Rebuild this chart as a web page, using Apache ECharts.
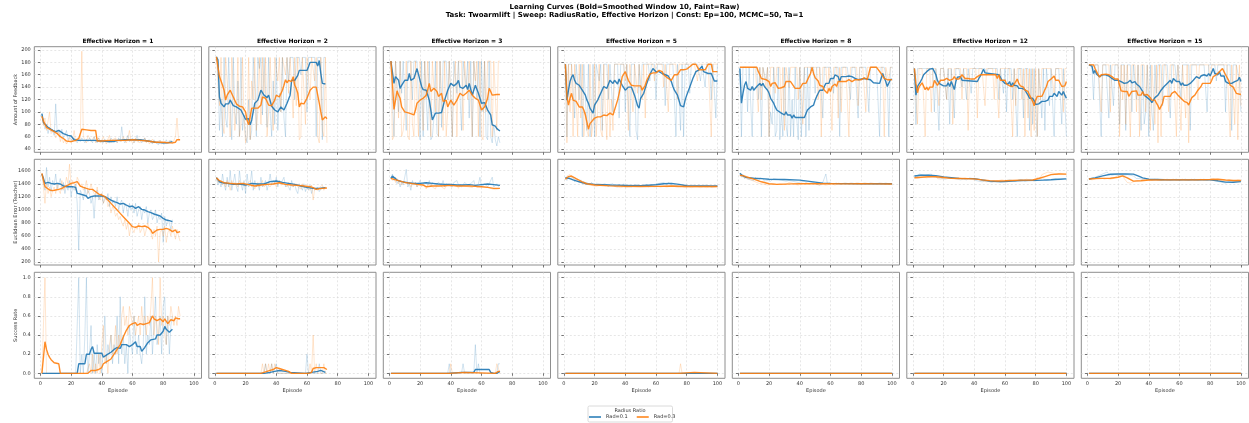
<!DOCTYPE html>
<html><head><meta charset="utf-8">
<script src="https://cdn.jsdelivr.net/npm/echarts@6/dist/echarts.min.js"></script>
<style>html,body{margin:0;padding:0;background:#fff;}#c{width:1249px;height:423px;}</style>
</head><body><div id="c"></div>
<script>
// ---------------- labels / ticks ----------------
const horizons = [1, 2, 3, 5, 8, 12, 15];
const radiusLabels = ['Rad=0.1', 'Rad=0.3'];
const rowNames = ['Amount of Feedback', 'Euclidean Error (Teacher)', 'Success Rate'];
const xTicks = [0, 20, 40, 60, 80, 100];
const yTicksFeedback = [40, 60, 80, 100, 120, 140, 160, 180, 200];
const yTicksError = [200, 400, 600, 800, 1000, 1200, 1400, 1600];
const yTicksSuccess = [0, 0.2, 0.4, 0.6, 0.8, 1.0];
const titleLine1 = 'Learning Curves (Bold=Smoothed Window 10, Faint=Raw)';
const titleLine2 = 'Task: Twoarmlift | Sweep: RadiusRatio, Effective Horizon | Const: Ep=100, MCMC=50, Ta=1';

// ---------------- Amount of Feedback: raw (one value per episode from 1) ----------------
const fb_h1_r01_raw = [97,85,72,80,65,75,68,72,62,113,65,70,60,72,58,62,70,55,60,58,52,58,55,50,56,52,58,54,50,56,52,58,55,50,60,54,50,58,52,54,50,56,52,55,50,58,54,52,56,50,58,52,76,55,50,56,62,52,55,58,50,54,62,52,56,50,54,58,52,50,55,52,48,55,50,52,47,54,50,52,48,55,50,52,54,52];
const fb_h1_r03_raw = [93,78,90,70,72,100,65,62,70,58,55,68,52,60,50,55,48,52,58,50,55,70,52,58,60,55,198,60,55,50,62,58,52,55,60,50,52,58,50,55,60,52,48,56,62,50,55,52,58,50,54,56,52,60,54,50,58,70,52,55,50,58,52,54,50,56,52,58,50,54,48,52,56,50,48,52,50,54,48,50,52,48,50,54,52,48,50,60,90,55,55];
const fb_h2_r01_raw = [188,175,70,120,60,188,90,75,188,110,55,188,100,80,150,60,188,70,95,60,50,120,55,70,188,140,60,188,170,188,95,188,130,75,188,100,60,150,80,188,70,130,100,188,90,60,188,150,188,188,188,120,188,188,188,160,188,188,188,100,188,188,188,188,188,60,188,188,188,55,188,188];
const fb_h2_r03_raw = [188,188,110,188,80,65,188,188,110,60,188,140,70,100,188,60,80,188,90,50,60,188,55,150,120,188,70,100,188,80,188,130,188,60,100,188,120,70,188,188,150,188,100,188,188,160,188,130,188,188,90,188,110,188,55,60,188,188,80,188,188,120,188,188,150,188,60,50,188,70,60,188,50];
const fb_h3_r01_raw = [182,182,60,182,182,100,182,130,182,182,70,182,182,182,120,182,182,182,182,55,182,60,182,120,70,182,55,60,90,182,65,60,182,75,182,182,182,120,182,182,60,182,182,130,182,182,70,182,182,140,182,90,182,60,182,182,120,182,60,182,100,182,60,55,182,60,50,80,55,45,60,50];
const fb_h3_r03_raw = [182,55,60,182,182,90,182,60,70,100,182,60,55,182,80,60,182,182,60,182,182,70,182,120,182,182,60,182,182,100,182,60,182,182,70,182,60,100,182,182,60,150,182,60,182,182,182,70,182,182,120,182,182,60,182,150,182,60,182,60,55,182,100,182,182,182,60,182,182,70,182,182];
const fb_h5_r01_raw = [177,60,177,177,177,177,90,177,177,120,177,60,177,177,70,177,60,80,177,60,177,177,150,177,70,177,177,177,120,177,177,100,177,177,177,90,177,177,177,100,177,177,60,177,177,177,70,55,177,120,177,177,177,177,177,150,177,177,177,120,177,177,177,177,177,110,177,177,177,177,177,120,60,177,177,70,177,60,177,177,177,130,177,177,177,177,177,177,150,177,177,140,177,177,177,120,177,177,90,177];
const fb_h5_r03_raw = [177,50,177,100,177,60,177,120,60,177,90,177,60,100,70,60,177,60,80,177,60,100,177,70,60,177,100,55,177,60,120,70,177,177,177,177,177,177,177,150,177,70,177,177,100,177,177,130,177,177,120,177,90,177,177,177,177,177,150,177,177,177,177,177,140,177,177,100,177,177,177,177,177,120,177,177,177,177,177,177,177,177,177,177,177,177,150,177,177,177,177,177,177,177,177,60,177,177,177,177];
const fb_h8_r01_raw = [172,60,172,172,172,100,172,172,60,172,172,172,120,172,60,172,172,150,172,60,100,80,172,60,70,172,55,100,60,172,80,60,172,60,120,60,172,90,55,172,60,120,172,60,172,70,172,172,172,130,172,172,172,172,90,172,172,172,172,172,172,130,172,172,172,60,172,172,172,172,172,172,120,172,172,172,172,90,172,172,172,172,172,172,100,172,172,172,172,172,172,60,172,172,172,172,150,60,172,172];
const fb_h8_r03_raw = [172,172,172,172,172,172,172,172,172,172,172,172,100,172,120,172,172,140,172,60,172,172,172,130,172,172,172,100,172,70,172,172,140,172,172,172,172,172,120,172,172,80,172,172,172,172,172,172,172,172,172,120,172,60,172,172,172,130,172,172,70,172,172,172,90,172,100,172,172,172,172,60,172,172,172,172,172,110,172,172,172,172,100,172,172,172,172,172,172,172,172,172,172,172,60,172,172,150,172,172];
const fb_h12_r01_raw = [170,80,170,170,170,170,170,170,170,170,170,170,170,100,170,120,70,170,170,170,170,120,170,80,170,170,90,170,170,170,170,140,170,170,120,170,170,130,170,170,170,170,170,170,170,170,170,160,170,170,170,170,170,170,170,120,170,170,130,170,100,170,170,170,120,170,170,60,170,170,170,90,170,170,170,70,170,80,170,100,60,170,170,90,170,70,170,170,110,170,170,60,170,170,170,170,80,170,170,60];
const fb_h12_r03_raw = [170,120,80,170,170,170,120,60,170,170,170,100,170,170,170,170,110,170,170,170,170,120,170,170,170,80,170,170,170,170,170,120,170,170,170,70,170,170,170,170,170,90,170,170,170,170,110,170,170,170,170,170,120,170,170,90,170,170,170,170,170,170,170,170,60,170,110,170,170,170,120,170,60,170,90,170,60,170,70,170,60,170,120,170,170,170,170,170,170,170,170,130,170,170,170,170,170,100,170,170];
const fb_h15_r01_raw = [176,176,176,120,176,176,176,176,60,176,176,176,176,90,176,176,110,176,176,176,80,176,176,176,70,176,176,176,100,176,176,120,176,176,70,176,80,100,176,60,176,100,70,176,130,176,176,176,110,176,176,176,176,90,176,176,176,150,176,176,120,176,176,176,176,176,70,176,176,176,176,176,176,176,176,176,176,100,176,176,176,176,176,150,176,176,176,176,176,100,176,176,176,70,176,176,176,176,150,100];
const fb_h15_r03_raw = [176,176,176,176,176,176,176,176,100,176,176,176,176,176,100,176,176,176,176,176,60,176,120,176,80,176,176,60,176,176,176,100,176,60,176,176,176,100,176,176,70,176,176,80,176,50,176,60,176,176,176,176,100,176,176,176,176,60,176,176,70,176,176,90,176,50,176,176,176,176,176,120,176,176,176,176,176,176,176,150,176,176,176,176,176,176,176,176,176,176,176,176,60,176,176,80,176,55,176,110];

// ---------------- Amount of Feedback: smoothed [episode, value] ----------------
const fb_h1_r01_s = [[1,97],[2,83],[3,82],[5,75],[8,70],[10,68],[11,71],[12,70],[15,65],[18,62],[20,61],[21,60],[22,55],[25,54],[30,54],[35,54],[40,53],[45,52],[48,52],[50,54],[55,55],[60,55],[65,55],[70,53],[75,51],[80,50],[83,50],[84,52],[86,52]];
const fb_h1_r03_s = [[1,93],[2,85],[3,80],[4,75],[6,72],[9,68],[11,65],[13,60],[15,57],[17,53],[20,52],[23,54],[25,57],[26,58],[27,72],[30,71],[33,70],[36,70],[37,53],[40,53],[45,54],[50,54],[55,54],[60,55],[65,54],[70,53],[75,51],[80,51],[84,50],[86,50],[88,51],[89,55],[91,55]];
const fb_h2_r01_s = [[1,189],[2,184],[3,124],[4,114],[5,116],[6,108],[7,113],[9,113],[10,119],[12,110],[14,108],[17,103],[20,88],[22,89],[23,79],[24,87],[26,114],[28,119],[30,135],[32,127],[34,123],[35,127],[37,109],[39,103],[41,100],[43,108],[45,103],[47,114],[49,127],[50,151],[52,151],[54,159],[55,167],[60,167],[61,173],[62,180],[66,180],[67,174],[68,183],[69,162],[70,146],[72,145]];
const fb_h2_r03_s = [[1,189],[2,186],[3,157],[4,156],[5,143],[6,135],[7,119],[8,127],[10,135],[11,138],[12,124],[13,125],[14,113],[16,109],[18,108],[20,100],[21,86],[22,79],[24,106],[28,106],[30,111],[31,124],[33,122],[34,119],[35,111],[37,110],[39,119],[40,127],[42,124],[44,135],[45,143],[46,152],[47,147],[48,151],[50,149],[51,157],[52,143],[53,138],[54,130],[55,108],[56,114],[58,113],[60,122],[62,135],[64,140],[66,140],[67,127],[68,114],[69,100],[70,87],[71,84],[72,92],[73,89]];
const fb_h3_r01_s = [[1,182],[2,182],[3,146],[4,157],[5,160],[6,151],[7,138],[8,143],[10,151],[12,151],[13,162],[14,151],[16,154],[18,170],[19,168],[21,141],[22,136],[24,135],[26,119],[28,87],[30,98],[32,98],[34,99],[36,119],[38,135],[40,146],[42,142],[44,146],[45,151],[46,140],[48,138],[50,143],[51,136],[52,146],[54,127],[56,143],[58,130],[60,114],[62,115],[64,103],[66,95],[67,79],[69,77],[70,73],[71,70],[72,69]];
const fb_h3_r03_s = [[1,182],[2,146],[3,104],[4,119],[5,134],[6,127],[7,122],[8,108],[10,100],[11,97],[13,98],[16,95],[17,103],[18,114],[20,119],[22,122],[24,127],[25,136],[26,146],[27,133],[29,138],[31,133],[32,125],[34,130],[35,117],[37,119],[38,108],[40,119],[42,111],[44,119],[46,130],[48,126],[50,130],[52,135],[54,127],[56,122],[58,119],[60,103],[62,108],[64,122],[65,138],[66,133],[67,127],[70,128],[72,128]];
const fb_h5_r01_s = [[1,177],[2,119],[3,135],[4,149],[5,156],[6,160],[7,151],[8,146],[10,143],[12,135],[14,127],[15,119],[16,114],[17,106],[18,106],[19,98],[20,111],[22,119],[24,130],[26,141],[28,138],[30,151],[32,146],[33,151],[35,145],[36,153],[38,143],[40,135],[42,140],[44,140],[46,127],[47,119],[48,110],[49,106],[50,122],[52,130],[54,146],[56,160],[58,170],[60,165],[62,165],[64,162],[66,160],[68,158],[70,149],[71,141],[72,135],[74,127],[76,110],[78,108],[79,119],[80,127],[82,140],[84,154],[86,165],[88,168],[90,174],[91,165],[92,167],[94,162],[96,162],[98,150],[100,150]];
const fb_h5_r03_s = [[1,177],[2,125],[3,111],[4,122],[5,130],[6,119],[8,117],[10,108],[12,108],[13,103],[14,95],[15,84],[16,72],[17,81],[18,84],[20,90],[22,92],[24,92],[26,95],[28,94],[30,98],[32,95],[33,103],[35,119],[36,130],[37,143],[38,157],[40,165],[42,151],[44,143],[46,142],[50,142],[51,135],[52,135],[53,143],[54,151],[56,161],[58,163],[60,163],[62,167],[64,165],[65,160],[66,157],[68,154],[70,151],[72,160],[74,160],[76,168],[78,168],[80,169],[82,173],[84,177],[86,177],[88,168],[92,168],[94,177],[96,177],[97,165],[100,165]];
const fb_h8_r01_s = [[1,170],[2,114],[3,130],[4,143],[5,149],[6,138],[7,141],[8,135],[9,141],[10,135],[12,141],[13,141],[14,146],[15,142],[16,146],[17,141],[18,138],[19,135],[20,130],[21,122],[22,119],[23,114],[24,108],[25,103],[26,100],[28,98],[30,95],[31,100],[32,95],[33,92],[34,95],[35,90],[36,95],[37,91],[43,91],[44,97],[45,103],[46,104],[47,108],[48,106],[49,111],[50,119],[51,125],[52,130],[53,135],[54,136],[55,135],[56,141],[57,146],[58,149],[59,146],[60,154],[61,157],[62,154],[63,160],[64,160],[65,157],[66,149],[67,157],[70,157],[72,158],[74,157],[76,154],[78,152],[82,154],[86,152],[88,147],[92,146],[93,154],[94,162],[95,155],[96,149],[97,141],[98,141],[99,152],[100,153]];
const fb_h8_r03_s = [[1,172],[12,172],[13,165],[14,160],[15,154],[18,152],[20,149],[21,141],[22,146],[24,147],[25,146],[26,138],[28,139],[30,141],[31,149],[34,149],[35,147],[37,138],[40,138],[41,141],[42,146],[44,146],[46,157],[47,162],[48,172],[49,162],[50,155],[51,154],[52,150],[53,143],[54,141],[55,141],[56,135],[57,138],[58,130],[59,138],[60,133],[61,141],[62,138],[63,145],[64,141],[65,149],[66,146],[70,149],[72,152],[74,149],[76,152],[80,152],[82,155],[84,152],[85,162],[86,172],[90,172],[91,170],[93,162],[95,154],[97,152],[100,152]];
const fb_h12_r01_s = [[1,170],[2,127],[3,141],[4,138],[5,149],[6,154],[7,160],[8,162],[9,165],[10,168],[11,169],[12,170],[13,170],[14,165],[15,160],[16,151],[17,146],[18,143],[20,142],[22,142],[23,147],[24,141],[25,149],[26,143],[27,136],[28,149],[29,156],[30,153],[31,157],[32,151],[42,149],[43,154],[44,158],[45,161],[46,169],[47,163],[48,163],[56,160],[57,156],[58,151],[59,154],[60,146],[61,149],[62,145],[63,149],[64,141],[65,147],[66,143],[67,140],[68,142],[69,138],[70,141],[71,138],[72,135],[73,136],[74,131],[75,127],[76,122],[77,119],[78,122],[79,118],[80,112],[82,113],[84,117],[85,119],[86,117],[87,120],[88,119],[89,125],[91,125],[92,130],[93,130],[94,125],[95,133],[96,133],[97,127],[98,133],[99,127],[100,122]];
const fb_h12_r03_s = [[1,170],[2,146],[3,131],[4,140],[5,138],[6,147],[7,146],[8,136],[9,140],[10,135],[11,140],[12,143],[13,140],[14,151],[15,149],[16,143],[17,141],[18,151],[20,151],[21,149],[22,154],[24,151],[25,154],[26,153],[27,157],[28,153],[29,156],[30,153],[32,160],[34,154],[36,154],[38,153],[40,153],[42,157],[44,160],[54,160],[55,154],[56,160],[57,151],[58,154],[60,151],[61,145],[62,147],[63,142],[64,143],[65,141],[66,145],[67,146],[68,153],[69,146],[70,142],[71,140],[72,140],[73,135],[74,133],[75,133],[76,127],[77,125],[78,117],[79,110],[80,119],[81,125],[84,125],[85,130],[86,136],[87,141],[88,149],[89,147],[90,153],[91,156],[92,158],[93,151],[94,149],[95,151],[96,149],[97,141],[98,138],[99,142],[100,149]];
const fb_h15_r01_s = [[1,176],[2,176],[3,174],[4,162],[5,167],[6,161],[7,162],[8,157],[9,158],[10,160],[12,160],[14,158],[16,154],[18,151],[20,151],[22,149],[23,151],[24,146],[25,149],[26,147],[28,151],[29,147],[30,145],[31,149],[32,145],[33,146],[34,141],[35,138],[36,133],[37,127],[38,130],[39,123],[40,125],[41,119],[42,115],[43,119],[44,123],[45,122],[46,127],[47,130],[48,135],[49,136],[50,141],[51,140],[52,146],[53,149],[54,151],[55,146],[56,154],[57,151],[58,149],[59,146],[60,149],[61,143],[62,147],[63,143],[64,146],[65,143],[66,145],[67,146],[68,149],[69,151],[70,151],[71,157],[72,160],[73,154],[74,158],[75,156],[76,160],[77,161],[78,158],[79,162],[80,158],[81,161],[82,170],[83,162],[84,165],[85,160],[86,165],[87,158],[88,157],[89,158],[90,149],[91,151],[92,146],[93,143],[94,146],[95,143],[96,149],[97,149],[98,151],[99,156],[100,149]];
const fb_h15_r03_s = [[1,176],[4,176],[5,170],[6,165],[7,160],[8,156],[9,160],[10,160],[12,161],[14,160],[16,157],[18,153],[20,153],[21,143],[22,134],[24,133],[26,133],[27,125],[28,127],[29,133],[30,134],[32,134],[33,127],[34,125],[35,127],[36,133],[37,127],[38,125],[39,128],[40,127],[41,123],[42,119],[43,117],[44,119],[45,114],[46,110],[47,104],[48,106],[49,114],[50,125],[51,122],[52,125],[53,127],[54,125],[55,130],[56,127],[57,133],[58,135],[59,127],[60,125],[61,122],[62,119],[63,117],[64,120],[65,115],[66,111],[67,117],[68,123],[69,125],[70,127],[71,131],[72,135],[73,134],[74,141],[75,146],[78,146],[80,146],[81,151],[82,157],[84,160],[85,160],[86,165],[87,168],[88,170],[89,165],[90,160],[92,151],[93,143],[94,141],[95,140],[96,135],[97,130],[98,128],[100,128]];

// ---------------- Euclidean Error: raw ----------------
const er_h1_r01_raw = [1549,1420,1300,1650,1350,1500,1280,1450,1380,1550,1320,1400,1480,1300,1420,1250,1380,1300,1450,1200,1350,1300,1400,1100,380,1300,1250,1150,1350,1200,1300,1250,1100,1200,870,1250,1300,1150,1200,1250,1100,1200,1150,1250,1050,1200,1100,1150,1050,1200,1000,1100,1150,950,1100,1050,900,1100,1000,1050,950,1100,900,1000,1050,850,1000,950,1050,800,950,1000,850,900,1000,800,900,850,950,500,900,750,850,800,700,850];
const er_h1_r03_raw = [1559,1350,1100,1400,1250,1350,1200,1300,1350,1250,1400,1300,1250,1450,1300,1350,1500,1400,1700,1350,1450,1400,1300,1500,1450,1350,1400,1300,1350,1450,1250,1300,1400,1300,1250,1200,1350,1200,1150,1250,1100,1150,1200,1050,1100,950,1050,1000,900,950,850,900,800,750,850,700,800,600,750,700,650,750,700,800,650,700,750,600,700,800,700,650,550,700,600,750,200,650,700,600,750,500,650,700,600,750,650,550,700,600,520];
const er_h2_r01_raw = [1493,1380,1450,1350,1550,1400,1300,1500,1350,1600,1300,1420,1550,1350,1280,1600,1400,1300,1450,1250,1550,1350,1400,1600,1300,1450,1350,1400,1300,1500,1350,1400,1450,1300,1400,1550,1380,1450,1400,1500,1350,1450,1400,1380,1500,1350,1400,1420,1300,1450,1350,1400,1300,1250,1400,1350,1300,1400,1280,1350,1300,1380,1250,1350,1300,1320,1350,1280,1300,1350,1320,1340];
const er_h2_r03_raw = [1493,1420,1400,1450,1380,1420,1350,1450,1400,1300,1450,1380,1420,1400,1350,1450,1380,1400,1420,1350,1400,1380,1450,1350,1400,1320,1380,1420,1350,1400,1450,1350,1380,1400,1420,1350,1400,1380,1420,1350,1400,1450,1380,1350,1400,1380,1350,1420,1380,1400,1350,1380,1400,1350,1380,1320,1400,1350,1380,1340,1360,1300,1380,1150,1320,1350,1300,1340,1320,1380,1300,1350,1330];
const er_h3_r01_raw = [1483,1550,1450,1500,1400,1450,1350,1420,1380,1500,1620,1350,1400,1300,1450,1380,1420,1350,1400,1450,1380,1350,1420,1400,1380,1450,1350,1420,1400,1380,1350,1420,1400,1380,1450,1350,1400,1420,1380,1400,1350,1420,1400,1450,1380,1400,1350,1380,1420,1400,1380,1350,1400,1380,1450,1350,1380,1400,1500,1350,1380,1400,1380,1350,1400,1380,1500,1350,1380,1400,1360,1380];
const er_h3_r03_raw = [1483,1450,1500,1420,1480,1400,1450,1380,1420,1450,1400,1380,1420,1350,1400,1380,1420,1350,1400,1380,1350,1400,1380,1320,1380,1350,1400,1350,1380,1320,1380,1350,1400,1350,1380,1320,1370,1350,1400,1360,1340,1380,1350,1370,1330,1380,1350,1370,1340,1360,1380,1350,1370,1340,1360,1380,1340,1370,1350,1330,1360,1340,1350,1320,1340,1330,1320,1340,1310,1330,1320,1330];
const er_h5_r01_raw = [1500,1450,1520,1480,1460,1500,1430,1480,1450,1420,1460,1400,1440,1380,1420,1400,1380,1420,1400,1370,1410,1380,1400,1370,1390,1360,1400,1380,1350,1390,1370,1400,1360,1380,1350,1390,1370,1360,1400,1350,1380,1360,1390,1350,1370,1380,1350,1390,1360,1370,1350,1380,1360,1390,1350,1370,1380,1360,1390,1370,1400,1380,1410,1390,1420,1400,1380,1420,1400,1390,1410,1380,1400,1370,1390,1360,1380,1370,1360,1380,1350,1370,1360,1380,1350,1370,1360,1380,1350,1370,1360,1380,1350,1370,1360,1350,1380,1360,1370,1365];
const er_h5_r03_raw = [1470,1520,1490,1540,1480,1500,1460,1470,1440,1450,1420,1430,1400,1420,1390,1410,1380,1400,1370,1390,1360,1380,1370,1360,1380,1350,1370,1360,1380,1350,1370,1340,1360,1370,1350,1360,1340,1370,1350,1360,1340,1370,1350,1360,1370,1340,1360,1350,1370,1340,1360,1350,1370,1350,1360,1340,1370,1360,1350,1370,1360,1380,1350,1370,1360,1380,1350,1370,1360,1350,1370,1360,1350,1370,1340,1360,1350,1370,1340,1360,1350,1370,1340,1360,1350,1370,1350,1360,1340,1370,1350,1360,1340,1360,1350,1370,1340,1360,1350,1360];
const er_h8_r01_raw = [1560,1500,1540,1480,1520,1470,1500,1460,1490,1450,1500,1470,1440,1490,1460,1480,1440,1470,1450,1480,1440,1460,1480,1450,1470,1440,1460,1480,1450,1470,1440,1460,1450,1470,1440,1460,1430,1450,1420,1440,1430,1410,1440,1420,1400,1430,1410,1390,1420,1400,1390,1410,1380,1400,1420,1390,1550,1400,1380,1410,1390,1400,1380,1410,1400,1390,1420,1400,1380,1410,1390,1400,1380,1410,1390,1400,1380,1410,1390,1400,1380,1410,1390,1400,1380,1410,1390,1400,1380,1400,1390,1410,1380,1400,1390,1410,1380,1400,1390,1400];
const er_h8_r03_raw = [1530,1560,1500,1520,1480,1510,1470,1490,1450,1460,1430,1440,1410,1430,1400,1420,1390,1410,1380,1400,1390,1380,1400,1370,1390,1380,1400,1380,1390,1410,1390,1400,1420,1390,1410,1400,1390,1410,1380,1400,1410,1390,1400,1380,1410,1390,1400,1380,1410,1400,1390,1410,1380,1400,1390,1410,1380,1400,1390,1410,1400,1390,1380,1400,1410,1390,1400,1380,1410,1390,1400,1380,1410,1390,1400,1380,1410,1390,1400,1380,1400,1390,1410,1380,1400,1390,1410,1380,1400,1390,1400,1380,1410,1390,1400,1380,1400,1390,1400,1396];
const er_h12_r01_raw = [1518,1540,1500,1550,1520,1540,1510,1530,1500,1540,1520,1550,1510,1530,1500,1520,1490,1510,1480,1500,1470,1490,1480,1470,1490,1460,1480,1490,1470,1480,1460,1490,1470,1480,1460,1470,1490,1460,1480,1470,1450,1470,1440,1460,1430,1450,1440,1420,1440,1430,1420,1440,1430,1420,1440,1430,1420,1440,1430,1440,1450,1430,1460,1440,1450,1460,1440,1450,1460,1440,1460,1450,1440,1460,1450,1440,1460,1450,1440,1460,1450,1440,1460,1450,1470,1460,1450,1470,1460,1480,1470,1460,1480,1470,1460,1480,1470,1460,1480,1470];
const er_h12_r03_raw = [1493,1520,1480,1510,1490,1520,1500,1530,1490,1520,1500,1530,1510,1490,1520,1480,1500,1470,1490,1480,1460,1490,1470,1480,1460,1490,1470,1480,1460,1490,1470,1480,1460,1490,1470,1480,1460,1470,1480,1460,1450,1470,1440,1460,1450,1440,1460,1430,1450,1440,1460,1430,1450,1440,1430,1450,1440,1460,1440,1450,1460,1440,1470,1450,1460,1440,1470,1450,1460,1440,1470,1450,1460,1470,1450,1460,1470,1450,1480,1460,1500,1520,1490,1540,1520,1560,1540,1580,1550,1570,1540,1560,1530,1550,1540,1560,1530,1550,1540,1545];
const er_h15_r01_raw = [1472,1460,1490,1470,1500,1480,1520,1500,1540,1510,1560,1530,1580,1540,1560,1530,1550,1540,1570,1530,1550,1540,1560,1530,1550,1540,1560,1530,1550,1520,1500,1480,1460,1480,1450,1470,1460,1480,1450,1470,1460,1450,1470,1460,1450,1470,1460,1450,1470,1460,1450,1470,1460,1450,1470,1460,1450,1470,1460,1450,1470,1460,1450,1470,1460,1450,1470,1460,1450,1470,1460,1450,1470,1460,1450,1470,1460,1450,1470,1460,1440,1450,1430,1440,1420,1430,1410,1420,1430,1410,1420,1430,1410,1420,1440,1430,1450,1440,1430,1440];
const er_h15_r03_raw = [1472,1480,1460,1490,1470,1480,1500,1470,1490,1480,1470,1490,1480,1500,1470,1490,1480,1500,1510,1520,1530,1540,1520,1480,1450,1420,1400,1410,1420,1430,1440,1450,1460,1450,1470,1460,1450,1470,1460,1450,1470,1460,1450,1470,1460,1450,1470,1460,1450,1470,1460,1450,1470,1460,1450,1470,1460,1450,1470,1460,1450,1470,1460,1450,1470,1460,1450,1470,1460,1450,1470,1460,1450,1470,1460,1450,1470,1460,1480,1470,1460,1480,1470,1460,1470,1450,1460,1450,1460,1440,1450,1460,1440,1450,1460,1440,1450,1460,1445,1450];

// ---------------- Euclidean Error: smoothed [episode, value] ----------------
const er_h1_r01_s = [[1,1549],[2,1483],[3,1406],[4,1380],[5,1421],[7,1406],[9,1396],[11,1406],[13,1396],[15,1365],[17,1355],[21,1355],[23,1345],[24,1253],[26,1242],[28,1227],[30,1212],[31,1176],[33,1202],[35,1212],[40,1212],[42,1202],[44,1176],[46,1150],[48,1125],[50,1110],[52,1089],[54,1099],[56,1074],[58,1048],[60,1058],[62,1023],[64,1048],[66,1007],[68,997],[70,972],[72,956],[74,936],[76,921],[78,905],[80,869],[81,895],[82,844],[83,818],[84,834],[85,844],[86,818]];
const er_h1_r03_s = [[1,1559],[2,1457],[3,1355],[4,1329],[6,1304],[8,1294],[10,1304],[12,1314],[14,1329],[16,1355],[18,1380],[20,1406],[22,1416],[24,1432],[25,1406],[26,1365],[28,1345],[30,1329],[32,1314],[34,1314],[36,1278],[38,1242],[40,1227],[42,1202],[44,1150],[46,1099],[48,1048],[50,997],[52,946],[54,895],[56,844],[58,793],[60,742],[62,732],[64,752],[66,742],[68,752],[70,732],[72,691],[73,640],[74,650],[76,691],[78,701],[80,701],[82,716],[83,742],[84,701],[86,665],[88,691],[89,650],[91,665]];
const er_h2_r01_s = [[1,1493],[3,1431],[5,1416],[8,1406],[12,1391],[16,1396],[20,1380],[24,1406],[28,1396],[32,1396],[36,1432],[40,1442],[44,1421],[48,1406],[52,1391],[56,1365],[60,1345],[64,1329],[68,1329],[72,1340]];
const er_h2_r03_s = [[1,1493],[3,1447],[6,1416],[10,1406],[14,1396],[18,1406],[22,1386],[26,1365],[30,1380],[34,1391],[38,1396],[42,1416],[46,1391],[50,1380],[54,1375],[58,1365],[62,1355],[64,1340],[66,1314],[68,1324],[70,1329],[73,1334]];
const er_h3_r01_s = [[1,1483],[2,1518],[3,1508],[5,1457],[8,1432],[12,1416],[16,1406],[20,1406],[24,1416],[28,1406],[32,1396],[36,1391],[40,1391],[44,1380],[48,1380],[52,1386],[56,1375],[60,1386],[64,1396],[68,1386],[72,1375]];
const er_h3_r03_s = [[1,1483],[3,1467],[6,1447],[10,1421],[14,1406],[18,1391],[22,1380],[24,1355],[28,1365],[32,1365],[36,1370],[40,1375],[44,1365],[48,1365],[52,1365],[56,1360],[60,1355],[64,1345],[68,1329],[72,1329]];
const er_h5_r01_s = [[1,1493],[3,1485],[6,1460],[10,1430],[15,1400],[20,1390],[30,1380],[40,1375],[50,1370],[60,1385],[65,1400],[70,1406],[75,1390],[80,1370],[90,1365],[100,1365]];
const er_h5_r03_s = [[1,1470],[3,1510],[5,1518],[8,1480],[12,1430],[15,1400],[20,1380],[30,1368],[40,1360],[50,1358],[60,1360],[70,1365],[80,1358],[90,1358],[100,1358]];
const er_h8_r01_s = [[1,1559],[3,1520],[5,1498],[10,1485],[15,1478],[20,1470],[30,1465],[40,1455],[45,1440],[50,1425],[55,1410],[60,1406],[70,1402],[80,1400],[90,1400],[100,1400]];
const er_h8_r03_s = [[1,1530],[3,1525],[5,1508],[10,1470],[15,1430],[20,1400],[25,1391],[30,1395],[40,1402],[50,1400],[60,1402],[70,1398],[80,1400],[90,1398],[100,1396]];
const er_h12_r01_s = [[1,1518],[5,1530],[10,1530],[15,1525],[20,1505],[30,1483],[40,1478],[45,1460],[50,1440],[55,1432],[60,1432],[65,1440],[70,1450],[80,1452],[85,1455],[90,1462],[95,1470],[100,1475]];
const er_h12_r03_s = [[1,1493],[5,1500],[10,1508],[15,1508],[20,1495],[25,1482],[30,1480],[40,1475],[45,1460],[50,1448],[55,1442],[60,1445],[70,1455],[78,1458],[82,1480],[86,1510],[90,1540],[95,1550],[100,1548]];
const er_h15_r01_s = [[1,1472],[5,1490],[10,1520],[15,1545],[20,1550],[25,1550],[30,1548],[33,1520],[36,1490],[40,1470],[50,1462],[60,1460],[70,1460],[80,1460],[85,1445],[90,1425],[95,1422],[100,1432]];
const er_h15_r03_s = [[1,1472],[5,1478],[10,1482],[15,1485],[20,1500],[23,1520],[26,1490],[30,1440],[35,1445],[40,1458],[50,1460],[60,1460],[70,1460],[80,1465],[85,1468],[90,1458],[95,1450],[100,1450]];

// ---------------- Success Rate: raw ----------------
const sr_h1_r01_raw = [0,0,0,0,0,0,0,0,0,0,0,0,0,0,0,0,0,0,0,0,0,0,0,0,1.0,0,0.2,0,0.4,1.0,0,0.2,0.5,0,0.2,0,0.3,0.1,0.2,0,0.3,0.6,0.1,0.3,0.2,0.4,0.1,0.3,0.2,0.6,0.1,0.8,0.2,0.4,0.1,0.3,0,0.5,0.3,0.2,0.6,0.3,0.2,0.4,0.2,0.1,0.3,0.8,0.2,0.4,0.3,0.6,0.2,0.5,0.8,0.3,0.4,0.6,0.2,0.7,0.8,0.3,0.6,0.2,0.5,0.6];
const sr_h1_r03_raw = [0,0,1.0,0,0,0,0,0,0,0,0,0,0,0,0,0,0,0,0,0,0,0,0,0,0,0,0,0,0,0,0,0.1,0,0.2,0,0.1,0,0.2,0,0.3,0.5,0.1,0.2,0,0.3,0.4,0.2,0.3,0.5,0.2,0.4,0.3,0.6,0.7,0.5,0.6,0.4,0.7,0.6,0.5,0.6,0.4,0.5,0.6,0.4,0.7,0.5,0.6,0.4,0.6,0.5,0.7,1.0,0.4,0.6,0.5,0.3,1.0,0.5,0.6,0.4,0.3,0.6,0.5,0.7,0.7,0.5,0.6,0.5,0.7,0.6];
const sr_h2_r01_raw = [[1,0],[32,0],[33,0.1],[34,0],[36,0],[37,0.1],[38,0],[39,0],[40,0.1],[41,0],[59,0],[60,0.2],[61,0],[67,0],[68,0.1],[69,0],[72,0]];
const sr_h2_r03_raw = [[1,0],[30,0],[31,0.1],[32,0],[33,0.1],[34,0],[35,0.1],[36,0],[37,0.1],[38,0],[39,0.1],[40,0.1],[41,0],[61,0],[62,0.1],[63,0],[64,0.4],[65,0],[66,0.1],[67,0],[70,0],[71,0.1],[72,0],[73,0]];
const sr_h3_r01_raw = [[1,0],[38,0],[39,0.1],[40,0],[47,0],[48,0.1],[49,0],[55,0],[56,0.3],[57,0],[58,0.1],[59,0],[70,0],[71,0.1],[72,0.1]];
const sr_h3_r03_raw = [[1,0],[39,0],[40,0.1],[41,0],[69,0],[70,0.1],[71,0.1],[72,0]];
const sr_h5_r01_raw = [[1,0],[100,0]];
const sr_h5_r03_raw = [[1,0],[75,0],[76,0.1],[77,0],[100,0]];
const sr_h8_r01_raw = [[1,0],[100,0]];
const sr_h8_r03_raw = [[1,0],[100,0]];
const sr_h12_r01_raw = [[1,0],[100,0]];
const sr_h12_r03_raw = [[1,0],[100,0]];
const sr_h15_r01_raw = [[1,0],[100,0]];
const sr_h15_r03_raw = [[1,0],[100,0]];

// ---------------- Success Rate: smoothed ----------------
const sr_h1_r01_s = [[1,0],[24,0],[25,0.1],[29,0.1],[30,0.2],[32,0.2],[33,0.25],[34,0.28],[35,0.21],[40,0.21],[41,0.17],[44,0.2],[46,0.22],[48,0.25],[50,0.27],[52,0.26],[53,0.3],[54,0.28],[56,0.3],[58,0.28],[60,0.3],[62,0.33],[63,0.28],[65,0.28],[66,0.23],[67,0.25],[68,0.27],[70,0.32],[72,0.35],[73,0.33],[75,0.36],[76,0.4],[78,0.4],[80,0.44],[81,0.49],[82,0.46],[83,0.45],[84,0.43],[85,0.42],[86,0.46]];
const sr_h1_r03_s = [[1,0],[2,0],[3,0.33],[4,0.25],[5,0.2],[6,0.167],[7,0.143],[8,0.125],[9,0.111],[10,0.1],[12,0.1],[13,0],[31,0],[32,0.02],[33,0.03],[36,0.03],[38,0.04],[40,0.06],[41,0.1],[43,0.12],[44,0.11],[46,0.15],[48,0.2],[50,0.25],[52,0.3],[54,0.38],[56,0.45],[58,0.5],[60,0.52],[62,0.53],[63,0.5],[65,0.52],[67,0.51],[69,0.52],[71,0.53],[73,0.6],[74,0.57],[76,0.55],[77,0.53],[78,0.57],[80,0.54],[81,0.57],[83,0.52],[84,0.5],[85,0.56],[86,0.58],[87,0.55],[88,0.58],[89,0.56],[90,0.57],[91,0.57]];
const sr_h2_r01_s = [[1,0],[32,0],[33,0.01],[36,0.01],[37,0.02],[39,0.02],[40,0.03],[42,0.03],[43,0.02],[46,0.02],[47,0.01],[49,0.01],[50,0],[59,0],[60,0.02],[67,0.02],[68,0.03],[69,0.03],[70,0.01],[72,0.01]];
const sr_h2_r03_s = [[1,0],[30,0],[31,0.01],[32,0.01],[33,0.02],[34,0.02],[35,0.03],[36,0.03],[37,0.04],[38,0.04],[39,0.05],[40,0.06],[41,0.05],[42,0.05],[43,0.04],[44,0.04],[45,0.03],[46,0.03],[47,0.02],[48,0.02],[49,0.01],[50,0],[61,0],[62,0.01],[63,0.01],[64,0.05],[65,0.05],[66,0.06],[71,0.06],[72,0.05],[73,0.04]];
const sr_h3_r01_s = [[1,0],[38,0],[39,0.01],[47,0.01],[48,0.02],[49,0.01],[55,0.01],[56,0.04],[65,0.04],[66,0.01],[67,0.01],[68,0],[70,0],[71,0.01],[72,0.02]];
const sr_h3_r03_s = [[1,0],[39,0],[40,0.01],[49,0.01],[50,0],[69,0],[70,0.01],[71,0.02],[72,0.02]];
const sr_h5_r01_s = [[1,0],[100,0]];
const sr_h5_r03_s = [[1,0],[75,0],[76,0.01],[85,0.01],[86,0],[100,0]];
const sr_h8_r01_s = [[1,0],[100,0]];
const sr_h8_r03_s = [[1,0],[100,0]];
const sr_h12_r01_s = [[1,0],[100,0]];
const sr_h12_r03_s = [[1,0],[100,0]];
const sr_h15_r01_s = [[1,0],[100,0]];
const sr_h15_r03_s = [[1,0],[100,0]];

// ---------------- assemble panels ----------------
const panelData = [
  [ [fb_h1_r01_raw, fb_h1_r01_s, fb_h1_r03_raw, fb_h1_r03_s],
    [fb_h2_r01_raw, fb_h2_r01_s, fb_h2_r03_raw, fb_h2_r03_s],
    [fb_h3_r01_raw, fb_h3_r01_s, fb_h3_r03_raw, fb_h3_r03_s],
    [fb_h5_r01_raw, fb_h5_r01_s, fb_h5_r03_raw, fb_h5_r03_s],
    [fb_h8_r01_raw, fb_h8_r01_s, fb_h8_r03_raw, fb_h8_r03_s],
    [fb_h12_r01_raw, fb_h12_r01_s, fb_h12_r03_raw, fb_h12_r03_s],
    [fb_h15_r01_raw, fb_h15_r01_s, fb_h15_r03_raw, fb_h15_r03_s] ],
  [ [er_h1_r01_raw, er_h1_r01_s, er_h1_r03_raw, er_h1_r03_s],
    [er_h2_r01_raw, er_h2_r01_s, er_h2_r03_raw, er_h2_r03_s],
    [er_h3_r01_raw, er_h3_r01_s, er_h3_r03_raw, er_h3_r03_s],
    [er_h5_r01_raw, er_h5_r01_s, er_h5_r03_raw, er_h5_r03_s],
    [er_h8_r01_raw, er_h8_r01_s, er_h8_r03_raw, er_h8_r03_s],
    [er_h12_r01_raw, er_h12_r01_s, er_h12_r03_raw, er_h12_r03_s],
    [er_h15_r01_raw, er_h15_r01_s, er_h15_r03_raw, er_h15_r03_s] ],
  [ [sr_h1_r01_raw, sr_h1_r01_s, sr_h1_r03_raw, sr_h1_r03_s],
    [sr_h2_r01_raw, sr_h2_r01_s, sr_h2_r03_raw, sr_h2_r03_s],
    [sr_h3_r01_raw, sr_h3_r01_s, sr_h3_r03_raw, sr_h3_r03_s],
    [sr_h5_r01_raw, sr_h5_r01_s, sr_h5_r03_raw, sr_h5_r03_s],
    [sr_h8_r01_raw, sr_h8_r01_s, sr_h8_r03_raw, sr_h8_r03_s],
    [sr_h12_r01_raw, sr_h12_r01_s, sr_h12_r03_raw, sr_h12_r03_s],
    [sr_h15_r01_raw, sr_h15_r01_s, sr_h15_r03_raw, sr_h15_r03_s] ]
];

const COLORS = ['#1f77b4', '#ff7f0e'];
const FONT = 'DejaVu Sans';
const COL_LEFT0 = 34.3, COL_STEP = 174.5, COL_W = 167.2;
const ROW_TOP = [46.7, 159.3, 272.3];
const ROW_H = [105.6, 105.7, 106];
const Y_MIN = [34.7, 154, -0.052];
const Y_MAX = [205.3, 1775, 1.056];
const Y_TICKS = [yTicksFeedback, yTicksError, yTicksSuccess];
const Y_STEP = [20, 200, 0.2];
const X_STEP = 20;

const toPairs = arr => arr.map((v, i) => Array.isArray(v) ? v : [i + 1, v]);

const grids = [], xAxes = [], yAxes = [], series = [], graphics = [];
for (let r = 0; r < 3; r++) {
  for (let c = 0; c < 7; c++) {
    const g = r * 7 + c;
    const left = COL_LEFT0 + c * COL_STEP;
    grids.push({ left: left, top: ROW_TOP[r], width: COL_W, height: ROW_H[r],
      show: true, borderColor: '#8e8e8e', borderWidth: 1, backgroundColor: 'rgba(0,0,0,0)', containLabel: false });
    const gridLine = { show: true, lineStyle: { color: '#d6d6d6', width: 0.6, type: [2, 2] } };
    xAxes.push({ type: 'value', gridIndex: g, min: -3.95, max: 104.95,
      minInterval: X_STEP, maxInterval: X_STEP,
      axisLine: { show: false },
      axisTick: { show: true, length: 2.5, customValues: xTicks, lineStyle: { color: '#555', width: 0.8 } },
      axisLabel: { show: r === 2, customValues: xTicks, fontSize: 5, color: '#333', margin: 3, fontFamily: FONT },
      splitLine: gridLine });
    yAxes.push({ type: 'value', gridIndex: g, min: Y_MIN[r], max: Y_MAX[r],
      minInterval: Y_STEP[r], maxInterval: Y_STEP[r],
      axisLine: { show: false },
      axisTick: { show: true, length: 2.5, customValues: Y_TICKS[r], lineStyle: { color: '#555', width: 0.8 } },
      axisLabel: { show: c === 0, customValues: Y_TICKS[r], fontSize: 5, color: '#333', margin: 3.5, fontFamily: FONT,
        formatter: r === 2 ? (v => Number(v).toFixed(1)) : (v => String(Math.round(v))) },
      splitLine: gridLine });
    const d = panelData[r][c];
    for (let k = 0; k < 2; k++) {
      series.push({ type: 'line', name: radiusLabels[k] + ' raw', xAxisIndex: g, yAxisIndex: g,
        data: toPairs(d[k * 2]), symbol: 'none', showSymbol: false, silent: true, animation: false,
        lineStyle: { color: COLORS[k], width: 0.9, opacity: 0.22 }, itemStyle: { color: COLORS[k] }, z: 2 });
      series.push({ type: 'line', name: radiusLabels[k], xAxisIndex: g, yAxisIndex: g,
        data: toPairs(d[k * 2 + 1]), symbol: 'none', showSymbol: false, silent: true, animation: false,
        lineStyle: { color: COLORS[k], width: 1.4, opacity: 0.9 }, itemStyle: { color: COLORS[k] }, z: 3 });
    }
    if (r === 0) {
      graphics.push({ type: 'text', x: left + COL_W / 2, y: 41.8, z: 10,
        style: { text: 'Effective Horizon = ' + horizons[c], fontSize: 6, fontWeight: 'bold', fontFamily: FONT,
          fill: '#000', align: 'center', verticalAlign: 'middle', textAlign: 'center', textVerticalAlign: 'middle' } });
    }
    if (r === 2) {
      graphics.push({ type: 'text', x: left + COL_W / 2, y: 391, z: 10,
        style: { text: 'Episode', fontSize: 5, fontFamily: FONT, fill: '#333',
          align: 'center', verticalAlign: 'middle', textAlign: 'center', textVerticalAlign: 'middle' } });
    }
  }
  graphics.push({ type: 'text', x: 15.7, y: ROW_TOP[r] + ROW_H[r] / 2, rotation: Math.PI / 2, z: 10,
    style: { text: rowNames[r], fontSize: 5, fontFamily: FONT, fill: '#333',
      align: 'center', verticalAlign: 'middle', textAlign: 'center', textVerticalAlign: 'middle' } });
}
graphics.push({ type: 'text', x: 624.5, y: 7.3, z: 10,
  style: { text: titleLine1, fontSize: 7, fontWeight: 'bold', fontFamily: FONT, fill: '#000',
    align: 'center', verticalAlign: 'middle', textAlign: 'center', textVerticalAlign: 'middle' } });
graphics.push({ type: 'text', x: 624.5, y: 15.2, z: 10,
  style: { text: titleLine2, fontSize: 7, fontWeight: 'bold', fontFamily: FONT, fill: '#000',
    align: 'center', verticalAlign: 'middle', textAlign: 'center', textVerticalAlign: 'middle' } });
// legend frame + title
graphics.push({ type: 'rect', shape: { x: 588, y: 406, width: 84.5, height: 16, r: 1.5 }, z: 0,
  style: { fill: '#fff', stroke: '#d0d0d0', lineWidth: 0.8 } });
graphics.push({ type: 'text', x: 630, y: 410.3, z: 10,
  style: { text: 'Radius Ratio', fontSize: 5, fontFamily: FONT, fill: '#333',
    align: 'center', verticalAlign: 'middle', textAlign: 'center', textVerticalAlign: 'middle' } });

const chart = echarts.init(document.getElementById('c'), null, { renderer: 'canvas' });
chart.setOption({
  animation: false,
  backgroundColor: '#fff',
  grid: grids,
  xAxis: xAxes,
  yAxis: yAxes,
  series: series,
  legend: {
    data: radiusLabels.map((n, k) => ({ name: n, icon: 'rect', itemStyle: { color: COLORS[k], opacity: 0.75 } })),
    left: 589, top: 414.5, itemWidth: 12, itemHeight: 2, itemGap: 9, padding: 0, z: 20,
    selectedMode: false,
    textStyle: { fontSize: 5, color: '#333', fontFamily: FONT, padding: [0, 0, 0, 0] }
  },
  graphic: { elements: graphics }
});
</script>
</body></html>
